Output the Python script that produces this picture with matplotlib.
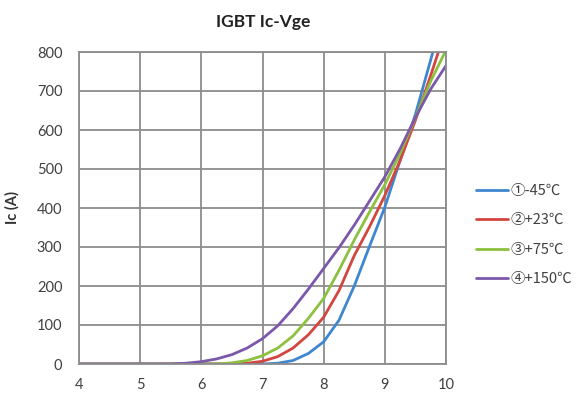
import matplotlib
matplotlib.use("Agg")
import matplotlib.pyplot as plt

vge = [4, 5, 5.5, 5.75, 6, 6.25, 6.5, 6.75, 7, 7.25, 7.5, 7.75, 8, 8.25, 8.5, 8.75, 9, 9.25, 9.5, 9.75, 10]
ic_m45 = [0, 0, 0, 0, 0, 0, 0, 0, 0, 2, 9, 27, 57, 112, 200, 302, 402, 522, 640, 780, 920]
ic_p23 = [0, 0, 0, 0, 0, 0, 0, 2, 7, 19, 41, 75, 120, 188, 278, 352, 432, 522, 625, 740, 860]
ic_p75 = [0, 0, 0, 0, 0, 0, 3, 9, 21, 41, 72, 117, 168, 240, 318, 390, 460, 540, 632, 725, 805]
ic_p150 = [0, 0, 0, 2, 6, 13, 24, 41, 65, 98, 142, 192, 245, 298, 356, 418, 480, 552, 632, 705, 765]

series = [
    ("\u2460-45\u2103", ic_m45, "#3F86D0"),
    ("\u2461+23\u2103", ic_p23, "#D2463F"),
    ("\u2462+75\u2103", ic_p75, "#8DC03F"),
    ("\u2463+150\u2103", ic_p150, "#7B58AA"),
]
xticks = [4, 5, 6, 7, 8, 9, 10]
yticks = [0, 100, 200, 300, 400, 500, 600, 700, 800]

plt.rcParams['font.family'] = ['Lato', 'DejaVu Sans']

fig = plt.figure(figsize=(5.85, 4.05), dpi=100)
ax = fig.add_axes([79/585, 1-364/405, (446-79)/585, (364-52)/405])

for label, ys, c in series:
    ax.plot(vge, ys, color=c, lw=2.0, label=label, solid_joinstyle='round', solid_capstyle='round')

ax.set_xlim(4, 10)
ax.set_ylim(0, 800)
ax.set_xticks(xticks)
ax.set_yticks(yticks)
ax.grid(True, color="#8c8c8c", lw=1.3)
ax.set_axisbelow(True)
for s in ax.spines.values():
    s.set_color("#8c8c8c")
    s.set_linewidth(1.3)
ax.tick_params(length=0, labelsize=10.5, colors="#404040")
ax.tick_params(axis='y', pad=12)
ax.tick_params(axis='x', pad=10)

ax.set_ylabel("Ic (A)", fontsize=10.5, fontweight='bold', color="#333333", labelpad=12)
fig.text(263/585, 1-22/405, "IGBT Ic-Vge", ha='center', va='center', fontsize=12.5,
         fontweight='bold', color="#222222")

leg = ax.legend(loc='center left', bbox_to_anchor=(470/585, 1-235/405), bbox_transform=fig.transFigure,
                frameon=False, handlelength=2.2, handletextpad=0.15, labelspacing=1.05,
                borderaxespad=0, prop={'family': ['Noto Sans CJK JP', 'DejaVu Sans'], 'size': 10.5})
for t in leg.get_texts():
    t.set_color("#404040")

fig.savefig("out.png", dpi=100)
